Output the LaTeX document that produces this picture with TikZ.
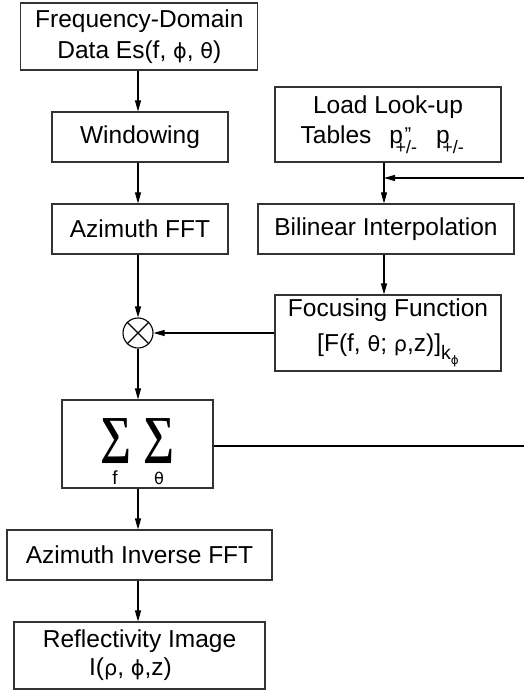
\documentclass[tikz,border=0pt]{standalone}
\usepackage{fontspec}
\usepackage{graphicx}
\setmainfont{Liberation Sans}
\newfontfamily\grk{DejaVu Sans}[Scale=0.85]
\newfontfamily\sigfont{Liberation Serif}
\usetikzlibrary{arrows.meta}
\newcommand{\gr}[1]{{\grk #1}}
\newcommand{\smallsz}{\fontsize{18}{18}\selectfont}
% table symbol: p with a +/- index tucked under it and an optional mark
\newcommand{\ppm}[1]{p\rlap{\kern-7.5pt\raisebox{-10pt}{\smallsz +/-}}\kern1.5pt\raisebox{2pt}{\fontsize{20}{20}\selectfont #1}}
% big summation sign
\newcommand{\bigsig}{\resizebox*{31pt}{45pt}{\sigfont\bfseries ∑}}

\begin{document}
\begin{tikzpicture}[x=1pt,y=-1pt,
  box/.style={draw=black!80,line width=1.1pt,inner sep=0pt,align=center,
    font=\fontsize{24.5}{31}\selectfont},
  arr/.style={line width=1.1pt,-{Triangle[length=11pt,width=6pt]}},
  lnk/.style={line width=1.1pt}]
\useasboundingbox (0,0) rectangle (524,700);

% column guides
\coordinate (lc) at (138,0);
\coordinate (rc) at (384,0);

% left column
\node[box,minimum width=237pt,minimum height=67pt] (data) at (139.4,36.5)
  {Frequency-Domain\\Data Es(f, \gr{ϕ}, \gr{θ})};
\node[box,minimum width=176pt,minimum height=50pt] (win) at (140,137) {Windowing};
\node[box,minimum width=176pt,minimum height=50pt] (fft) at (140,229) {Azimuth FFT};
\node[draw=black,line width=1.1pt,circle,minimum size=30pt,inner sep=0pt] (mix) at (138,333) {};
\draw[lnk] (mix.north east) -- (mix.south west);
\draw[lnk] (mix.north west) -- (mix.south east);
\node[box,minimum width=151pt,minimum height=88pt] (sum) at (137.5,444) {};
\node[inner sep=0pt] (sg1) at (116,441) {\bigsig};
\node[inner sep=0pt] (sg2) at (159,441) {\bigsig};
\node[inner sep=0pt,anchor=base,font=\fontsize{19}{19}\selectfont] (sf) at (115,484) {f};
\node[inner sep=0pt,anchor=base,font=\fontsize{19}{19}\selectfont] (st) at (159,484) {\gr{θ}};
\node[box,minimum width=265pt,minimum height=50pt] (inv) at (139.5,555) {Azimuth Inverse FFT};
\node[box,minimum width=251pt,minimum height=67pt,font=\fontsize{24.5}{28}\selectfont] (img) at (139.5,655.5)
  {Reflectivity Image\\I(\gr{ρ}, \gr{ϕ},z)\hspace*{18pt}};

% right column
\node[box,minimum width=226pt,minimum height=75pt,font=\fontsize{24.5}{30}\selectfont] (lut) at (388,124.5)
  {Load Look-up\\Tables\hspace{18pt}\ppm{''}\hspace{25pt}\ppm{}\hspace*{24pt}};
\node[box,minimum width=256pt,minimum height=50pt] (bil) at (386,229) {Bilinear Interpolation};
\node[box,minimum width=226pt,minimum height=76pt,font=\fontsize{24.5}{35}\selectfont] (foc) at (388,333)
  {Focusing Function\\{}[F(f, \gr{θ}; \gr{ρ},z)]\raisebox{-8pt}{\fontsize{19.5}{19.5}\selectfont k\raisebox{-5pt}{\fontsize{14}{14}\selectfont\grk ϕ}}};

% free ends at the right margin
\coordinate (fbin) at (524,178);
\coordinate (sumout) at (524,446);

% connectors
\draw[arr] (data.south -| lc) -- (win.north -| lc);
\draw[arr] (win.south -| lc) -- (fft.north -| lc);
\draw[arr] (fft.south -| lc) -- (mix.north);
\draw[arr] (mix.south) -- (sum.north -| lc);
\draw[arr] (sum.south -| lc) -- (inv.north -| lc);
\draw[arr] (inv.south -| lc) -- (img.north -| lc);
\draw[arr] (lut.south -| rc) -- (bil.north -| rc);
\draw[arr] (fbin) -- (fbin -| rc);
\draw[arr] (bil.south -| rc) -- (foc.north -| rc);
\draw[arr] (foc.west) -- (mix.east);
\draw[lnk] (sumout -| sum.east) -- (sumout);
\end{tikzpicture}
\end{document}
